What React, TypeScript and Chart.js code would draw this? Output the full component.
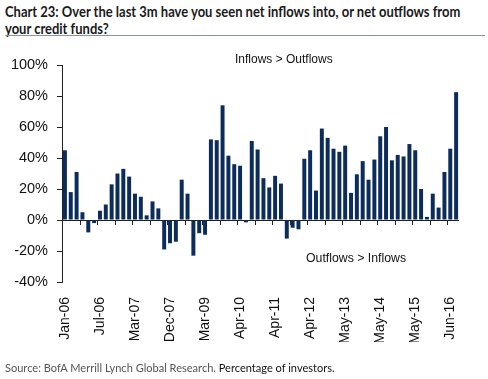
import React, { useEffect, useRef } from "react";
import { Chart, registerables } from "chart.js";

Chart.register(...registerables);

const tickLabels = ["Jan-06", "Jul-06", "Mar-07", "Dec-07", "Mar-09", "Apr-10", "Apr-11", "Apr-12", "May-13", "May-14", "May-15", "Jun-16"];

const values = [
  45, 18, 31, 5, -8, -2, 6, 10, 23, 30,
  33, 28, 17, 15, 3, 12, 7.5, -19, -15, -14,
  26, 17, -23, -8.5, -9.5, 52, 51.5, 74, 41.5, 36,
  35, -1.5, 51, 45.5, 27, 21, 28.5, 23.5, -12, -5,
  -6, 39.5, 45, 19, 59, 53, 46, 44, 48, 17.5,
  29.5, 38, 26, 39, 54, 60, 38.5, 42, 41, 49,
  45, 20, 2, 17, 8, 31, 46, 82.5,
];

const categories = values.map((_, i) => (i % 6 === 0 ? tickLabels[i / 6] : ""));

const yTicks = { min: -40, max: 100, step: 20 };

const SANS = "'Liberation Sans', Arial, sans-serif";
const TITLE_FONT = "Lato, 'Noto Sans', sans-serif";

const zeroTicks = {
  id: "zeroTicks",
  beforeDatasetsDraw(chart: any) {
    const x = chart.scales.x;
    const y = chart.scales.y;
    const y0 = y.getPixelForValue(0);
    const ctx = chart.ctx;
    ctx.save();
    ctx.strokeStyle = "#222";
    ctx.lineWidth = 1;
    for (let k = 0; k < categories.length - 1; k++) {
      if (k % 3 !== 2) continue;
      const px = Math.round((x.getPixelForValue(k) + x.getPixelForValue(k + 1)) / 2) + 0.5;
      ctx.beginPath();
      ctx.moveTo(px, y0);
      ctx.lineTo(px, y0 + 5);
      ctx.stroke();
    }
    ctx.restore();
  },
};

export default function App() {
  const ref = useRef<HTMLCanvasElement>(null);

  useEffect(() => {
    if (!ref.current) return;
    const chart = new Chart(ref.current, {
      type: "bar",
      data: {
        labels: categories,
        datasets: [
          {
            data: values,
            backgroundColor: "#0c2c5c",
            borderWidth: 0,
            categoryPercentage: 1,
            barPercentage: 0.68,
          },
        ],
      },
      options: {
        animation: false,
        responsive: false,
        maintainAspectRatio: false,
        layout: { padding: { top: 65, right: 11, bottom: 37, left: 0 } },
        plugins: { legend: { display: false }, tooltip: { enabled: false } },
        scales: {
          x: {
            grid: { display: false, drawTicks: false },
            border: { display: false },
            afterFit: (s: any) => {
              s.height = 60;
            },
            ticks: {
              autoSkip: false,
              maxRotation: 90,
              minRotation: 90,
              padding: 15,
              color: "#111",
              font: { family: SANS, size: 14 },
            },
          },
          y: {
            min: yTicks.min,
            max: yTicks.max,
            afterFit: (s: any) => {
              s.width = 62;
            },
            border: { display: true, color: "#222", width: 1 },
            grid: {
              color: (c: any) => (c.tick && c.tick.value === 0 ? "#222" : "rgba(0,0,0,0)"),
              tickColor: "#222",
              tickLength: 5,
              lineWidth: 1,
            },
            ticks: {
              stepSize: yTicks.step,
              padding: 9,
              color: "#111",
              font: { family: SANS, size: 14.5 },
              callback: (v: any) => v + "%",
            },
          },
        },
      },
      plugins: [zeroTicks],
    });
    return () => chart.destroy();
  }, []);

  return (
    <div style={{ position: "absolute", left: 0, top: 0, width: 488, height: 379, background: "#fff", overflow: "hidden" }}>
      <div
        style={{
          position: "absolute",
          left: 5,
          top: 3,
          width: 545,
          fontFamily: TITLE_FONT,
          fontWeight: 700,
          fontSize: 15,
          lineHeight: "17px",
          color: "#1a1a1a",
          transform: "scaleX(0.865)",
          transformOrigin: "0 0",
        }}
      >
        Chart 23: Over the last 3m have you seen net inflows into, or net outflows from your credit funds?
      </div>
      <div style={{ position: "absolute", left: 5, top: 35, width: 480, height: 1, background: "#8595a8" }} />
      <canvas ref={ref} width={488} height={379} style={{ position: "absolute", left: 0, top: 0 }} />
      <div
        style={{
          position: "absolute",
          left: 235,
          top: 52,
          fontFamily: SANS,
          fontSize: 12,
          color: "#111",
          whiteSpace: "nowrap",
        }}
      >
        Inflows &gt; Outflows
      </div>
      <div
        style={{
          position: "absolute",
          left: 306,
          top: 251,
          fontFamily: SANS,
          fontSize: 12.3,
          color: "#111",
          whiteSpace: "nowrap",
        }}
      >
        Outflows &gt; Inflows
      </div>
      <div
        style={{
          position: "absolute",
          left: 5,
          top: 360,
          fontFamily: TITLE_FONT,
          fontSize: 12,
          color: "#555",
          whiteSpace: "nowrap",
          transform: "scaleX(0.92)",
          transformOrigin: "0 0",
        }}
      >
        Source: BofA Merrill Lynch Global Research. <span style={{ color: "#111" }}>Percentage of investors.</span>
      </div>
    </div>
  );
}
